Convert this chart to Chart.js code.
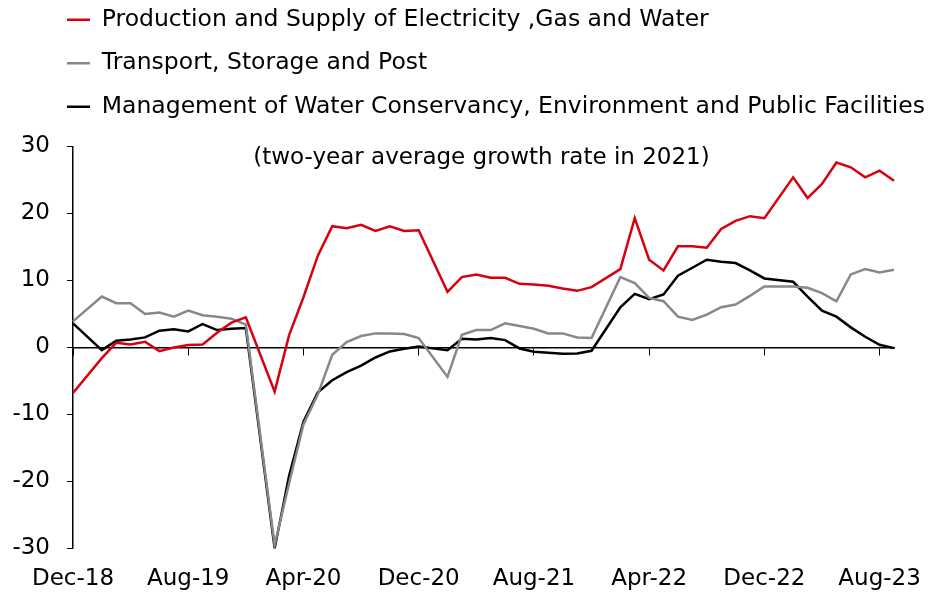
<!DOCTYPE html>
<html>
<head>
<meta charset="utf-8">
<script src="https://cdn.jsdelivr.net/npm/chart.js@4/dist/chart.umd.min.js"></script>
<style>
  html, body { margin: 0; padding: 0; background: #fff; }
  #wrap { width: 933px; height: 593px; position: relative; }
</style>
</head>
<body>
<div id="wrap"><canvas id="growth-chart"></canvas></div>
<script>
// meses (enero sin dato)
var months = ['Dec-18','Jan-19','Feb-19','Mar-19','Apr-19','May-19','Jun-19','Jul-19','Aug-19','Sep-19','Oct-19','Nov-19','Dec-19',
  'Jan-20','Feb-20','Mar-20','Apr-20','May-20','Jun-20','Jul-20','Aug-20','Sep-20','Oct-20','Nov-20','Dec-20',
  'Jan-21','Feb-21','Mar-21','Apr-21','May-21','Jun-21','Jul-21','Aug-21','Sep-21','Oct-21','Nov-21','Dec-21',
  'Jan-22','Feb-22','Mar-22','Apr-22','May-22','Jun-22','Jul-22','Aug-22','Sep-22','Oct-22','Nov-22','Dec-22',
  'Jan-23','Feb-23','Mar-23','Apr-23','May-23','Jun-23','Jul-23','Aug-23','Sep-23'];
var shownTicks = ['Dec-18','Aug-19','Apr-20','Dec-20','Aug-21','Apr-22','Dec-22','Aug-23'];
var yTicks = [-30, -20, -10, 0, 10, 20, 30];

var electricity = [-6.8, null, -1.6, 0.7, 0.45, 0.85, -0.55, 0.0, 0.35, 0.45, 2.2, 3.7, 4.5,
  null, -6.6, 1.8, 7.5, 13.7, 18.1, 17.8, 18.3, 17.4, 18.1, 17.4, 17.5,
  null, 8.3, 10.5, 10.9, 10.4, 10.4, 9.5, 9.4, 9.2, 8.8, 8.45, 9.0,
  null, 11.7, 19.3, 13.1, 11.5, 15.1, 15.1, 14.9, 17.7, 18.9, 19.6, 19.3,
  null, 25.4, 22.3, 24.4, 27.6, 26.9, 25.4, 26.4, 24.9];
var transport = [3.9, null, 7.6, 6.6, 6.6, 5.0, 5.2, 4.6, 5.5, 4.8, 4.6, 4.3, 3.4,
  null, -29.5, -20.3, -11.5, -7.0, -1.1, 0.8, 1.7, 2.1, 2.1, 2.0, 1.4,
  null, -4.4, 1.9, 2.6, 2.6, 3.6, 3.2, 2.8, 2.1, 2.1, 1.5, 1.4,
  null, 10.5, 9.6, 7.4, 6.9, 4.6, 4.1, 4.9, 6.0, 6.4, 7.7, 9.1,
  null, 9.1, 8.9, 8.1, 6.9, 10.9, 11.7, 11.2, 11.6];
var waterMgmt = [3.6, null, -0.4, 1.0, 1.2, 1.5, 2.5, 2.7, 2.4, 3.5, 2.6, 2.8, 2.9,
  null, -30, -19.2, -11.1, -6.7, -4.9, -3.7, -2.7, -1.5, -0.6, -0.2, 0.15,
  null, -0.4, 1.3, 1.2, 1.4, 1.1, -0.15, -0.65, -0.8, -0.95, -0.9, -0.5,
  null, 6.0, 8.0, 7.2, 7.9, 10.7, 11.9, 13.1, 12.8, 12.6, 11.5, 10.3,
  null, 9.8, 7.6, 5.5, 4.6, 3.0, 1.6, 0.4, -0.1];

var FONT = '"DejaVu Sans", "Liberation Sans", Arial, sans-serif';

// mover la leyenda a su sitio
var legendPlace = {
  id: 'legendPlace',
  afterLayout: function (chart) {
    var lg = chart.legend;
    if (!lg) return;
    var h = lg.height;
    lg.left = 47;
    lg.right = chart.width;
    lg.top = -12;
    lg.bottom = lg.top + h;
  }
};

// texto dentro del area del grafico
var noteText = {
  id: 'noteText',
  afterDraw: function (chart) {
    var ctx = chart.ctx, area = chart.chartArea;
    ctx.save();
    ctx.font = '23px ' + FONT;
    ctx.fillStyle = '#000';
    ctx.textAlign = 'center';
    ctx.textBaseline = 'middle';
    ctx.fillText('(two-year average growth rate in 2021)', (area.left + area.right) / 2 - 2, area.top + 12);
    ctx.restore();
  }
};

var ctx = document.getElementById('growth-chart').getContext('2d');
var chart = new Chart(ctx, {
  type: 'line',
  data: {
    labels: months,
    datasets: [{
      label: 'Production and Supply of Electricity ,Gas and Water',
      data: electricity,
      borderColor: '#D7000F',
      backgroundColor: '#D7000F',
      borderWidth: 2.5
    }, {
      label: 'Transport, Storage and Post',
      data: transport,
      borderColor: '#888888',
      backgroundColor: '#888888',
      borderWidth: 2.5
    }, {
      label: 'Management of Water Conservancy, Environment and Public Facilities',
      data: waterMgmt,
      borderColor: '#000000',
      backgroundColor: '#000000',
      borderWidth: 2.5
    }]
  },
  options: {
    responsive: true,
    maintainAspectRatio: false,
    animation: false,
    spanGaps: true,
    elements: {
      line: { tension: 0, fill: false },
      point: { radius: 0, hoverRadius: 0 }
    },
    layout: { padding: { left: 0, right: 39, top: 6, bottom: -17 } },
    plugins: {
      tooltip: { enabled: false },
      legend: {
        position: 'top',
        align: 'start',
        labels: {
          usePointStyle: true,
          pointStyle: 'line',
          pointStyleWidth: 23,
          padding: 20,
          color: '#000',
          font: { family: FONT, size: 23.5 }
        }
      }
    },
    scales: {
      x: {
        type: 'category',
        position: { y: 0 },
        grid: {
          drawOnChartArea: false,
          tickLength: 7,
          color: function (c) { return c.index % 8 === 0 ? '#000' : 'rgba(0,0,0,0)'; }
        },
        border: { color: '#000', width: 1.5 },
        ticks: { display: false, autoSkip: false }
      },
      x2: {
        type: 'category',
        position: 'bottom',
        labels: months,
        grid: { display: false, drawTicks: false },
        border: { display: false },
        ticks: {
          autoSkip: false,
          maxRotation: 0,
          padding: 17,
          color: '#000',
          font: { family: FONT, size: 23 },
          callback: function (value, index) {
            var lbl = months[index];
            return shownTicks.indexOf(lbl) >= 0 ? lbl : '';
          }
        }
      },
      y: {
        min: yTicks[0],
        max: yTicks[yTicks.length - 1],
        afterFit: function (scale) { scale.width = 73; },
        grid: { drawOnChartArea: false, tickLength: 6, color: '#000' },
        border: { color: '#000', width: 1.5 },
        ticks: {
          stepSize: 10,
          padding: 17,
          color: '#000',
          font: { family: FONT, size: 23 }
        }
      }
    }
  },
  plugins: [legendPlace, noteText]
});
</script>
</body>
</html>
